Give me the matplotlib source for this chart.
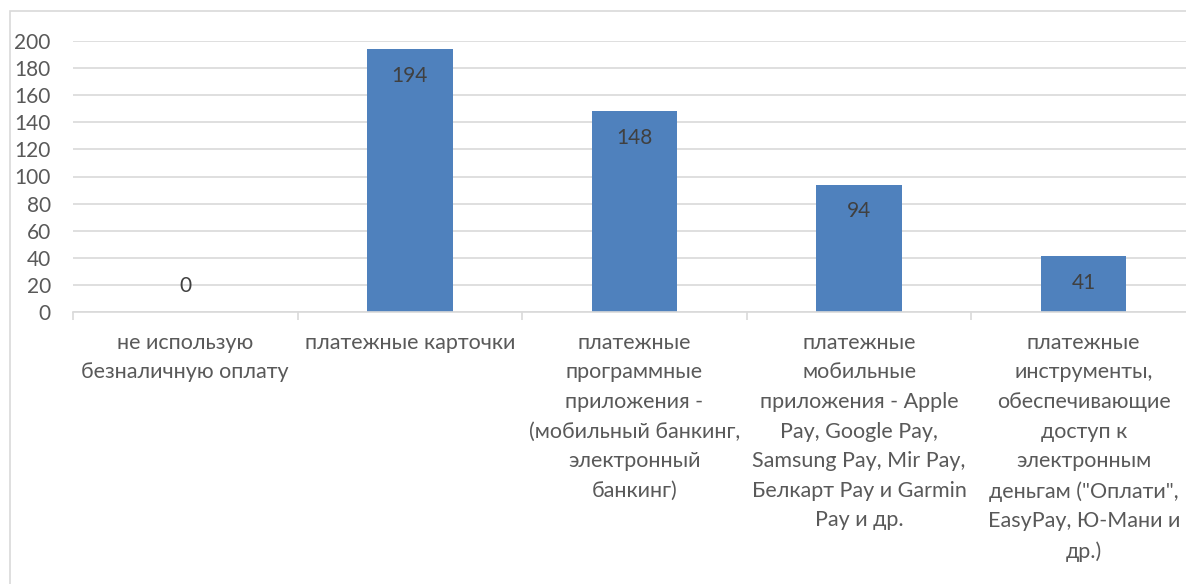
import matplotlib.pyplot as plt
from matplotlib.patches import Rectangle
from matplotlib.transforms import blended_transform_factory

# данные
categories = [
    "не использую\nбезналичную оплату",
    "платежные карточки",
    "платежные\nпрограммные\nприложения -\n(мобильный банкинг,\nэлектронный\nбанкинг)",
    "платежные\nмобильные\nприложения - Apple\nPay, Google Pay,\nSamsung Pay, Mir Pay,\nБелкарт Pay и Garmin\nPay и др.",
    "платежные\nинструменты,\nобеспечивающие\nдоступ к\nэлектронным\nденьгам (\"Оплати\",\nEasyPay, Ю-Мани и\nдр.)",
]
values = [0, 194, 148, 94, 41]
y_ticks = [0, 20, 40, 60, 80, 100, 120, 140, 160, 180, 200]

text_color = "#595959"
grid_color = "#D9D9D9"
bar_color = "#4F81BD"

plt.rcParams['font.family'] = ['Lato', 'DejaVu Sans']

fig = plt.figure(figsize=(11.86, 5.84), dpi=100)
# рамка диаграммы
fig.patches.append(Rectangle((10 / 1186, -0.1), 1.2, 0.981 + 0.1, transform=fig.transFigure,
                             fill=False, edgecolor=grid_color, linewidth=1.2))

ax = fig.add_axes([73 / 1186, 272 / 584, (1196 - 73) / 1186, 271 / 584])
x = list(range(len(values)))
ax.bar(x, values, width=0.38, color=bar_color, zorder=3)
ax.set_xlim(-0.5, len(values) - 0.5)
ax.set_ylim(0, 200)
ax.set_yticks(y_ticks)
ax.tick_params(axis='y', length=0, pad=16, labelsize=15, labelcolor=text_color)
ax.grid(axis='y', color=grid_color, linewidth=1.2, zorder=0)
for s in ['top', 'right', 'left']:
    ax.spines[s].set_visible(False)
ax.spines['bottom'].set_color(grid_color)
ax.spines['bottom'].set_linewidth(1.2)
ax.spines['bottom'].set_zorder(4)

# деления между категориями
ax.set_xticks([i - 0.5 for i in range(len(values) + 1)])
ax.set_xticklabels([])
ax.tick_params(axis='x', length=6, width=1.2, color=grid_color)

trans = blended_transform_factory(ax.transData, ax.transAxes)
for i, lab in enumerate(categories):
    ax.annotate(lab, xy=(i, 0), xycoords=trans, xytext=(0, -15), textcoords='offset points',
                ha='center', va='top', fontsize=15.5, color=text_color, linespacing=1.6)

for i, v in enumerate(values):
    off = -19 if v > 0 else 19
    ax.annotate(str(v), xy=(i, v), xytext=(0, off), textcoords='offset points',
                ha='center', va='center', fontsize=15, color="#404040", zorder=5)

fig.savefig("out.png", dpi=100)
